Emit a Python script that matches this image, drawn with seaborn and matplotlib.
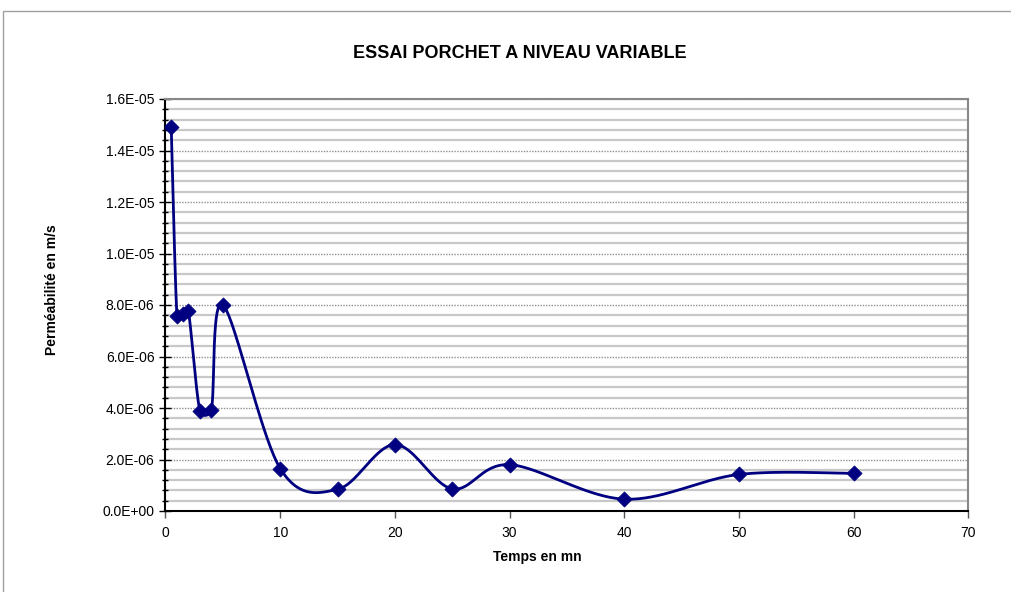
import numpy as np
import pandas as pd
import matplotlib
matplotlib.use("Agg")
import matplotlib.pyplot as plt
import seaborn as sns
from matplotlib.patches import Rectangle
from matplotlib.ticker import MultipleLocator, FuncFormatter

# ---- data ----
temps = [0.5, 1, 1.5, 2, 3, 4, 5, 10, 15, 20, 25, 30, 40, 50, 60]
permeabilite = [1.49e-05, 7.56e-06, 7.64e-06, 7.75e-06, 3.88e-06, 3.94e-06, 8.01e-06,
                1.65e-06, 0.84e-06, 2.58e-06, 0.86e-06, 1.80e-06, 0.46e-06, 1.42e-06, 1.46e-06]
x_ticks = [0, 10, 20, 30, 40, 50, 60, 70]
y_ticks = [0, 2e-06, 4e-06, 6e-06, 8e-06, 1e-05, 1.2e-05, 1.4e-05, 1.6e-05]
title = "ESSAI PORCHET A NIVEAU VARIABLE"
xlabel = "Temps en mn"
ylabel = "Perméabilité en m/s"

sns.set_theme(style="white")
plt.rcParams['font.family'] = ['Liberation Sans', 'DejaVu Sans']
plt.rcParams['text.color'] = 'black'
plt.rcParams['xtick.color'] = 'black'
plt.rcParams['ytick.color'] = 'black'
plt.rcParams['axes.labelcolor'] = 'black'

W, H = 1012, 592
fig = plt.figure(figsize=(W / 100, H / 100), dpi=100)
left, right, top, bottom = 165.5, 968.5, 99, 511
ax = fig.add_axes([left / W, 1 - bottom / H, (right - left) / W, (bottom - top) / H])

navy = "#000080"

# smooth curve (Excel-like Bezier) computed in pixel space
sx = (right - left) / 70.0
sy = (bottom - top) / 1.6e-05
P = np.column_stack([np.array(temps) * sx, np.array(permeabilite) * sy])
n = len(P)


def capped(v, L, k=0.6):
    nv = np.linalg.norm(v)
    lim = k * L
    return v * (lim / nv) if nv > lim else v


curve = []
for i in range(n - 1):
    p0 = P[i - 1] if i > 0 else P[i]
    p1, p2 = P[i], P[i + 1]
    p3 = P[i + 2] if i + 2 < n else P[i + 1]
    L = np.linalg.norm(p2 - p1)
    c1 = p1 + capped((p2 - p0) / 6.0, L)
    c2 = p2 - capped((p3 - p1) / 6.0, L)
    t = np.linspace(0, 1, 40)[:, None]
    seg = ((1 - t) ** 3) * p1 + 3 * ((1 - t) ** 2) * t * c1 + 3 * (1 - t) * t ** 2 * c2 + t ** 3 * p2
    curve.append(seg if i == 0 else seg[1:])
curve = np.vstack(curve)
df_curve = pd.DataFrame({"x": curve[:, 0] / sx, "y": curve[:, 1] / sy})
df_pts = pd.DataFrame({"x": temps, "y": permeabilite})

sns.lineplot(data=df_curve, x="x", y="y", sort=False, estimator=None, color=navy,
             linewidth=2, ax=ax, zorder=3)
sns.scatterplot(data=df_pts, x="x", y="y", marker="D", s=60, color=navy,
                edgecolor=navy, linewidth=0.5, ax=ax, zorder=4)

ax.set_xlim(0, 70)
ax.set_ylim(0, 1.6e-05)
ax.set_xticks(x_ticks)
ax.set_yticks(y_ticks)
ax.yaxis.set_minor_locator(MultipleLocator(4e-07))
ax.yaxis.set_major_formatter(FuncFormatter(lambda v, p: "{:.1E}".format(v)))
ax.xaxis.set_major_formatter(FuncFormatter(lambda v, p: "{:d}".format(int(round(v)))))

ax.grid(False)
ax.yaxis.grid(True, which="minor", color="#c8c8c8", linewidth=1.6, linestyle="-", zorder=0)
ax.yaxis.grid(True, which="major", color="#909090", linewidth=1.0, linestyle=(0, (1, 1)), zorder=1)
ax.set_axisbelow(True)

ax.tick_params(axis="y", which="major", direction="inout", length=8, width=1, color="black",
               labelsize=10, pad=4, left=True)
ax.tick_params(axis="y", which="minor", direction="inout", length=5, width=1, color="black", left=True)
ax.tick_params(axis="x", which="major", direction="out", length=5, width=1, color="#555555",
               labelsize=10, pad=6, bottom=True)

for s in ["left", "bottom"]:
    ax.spines[s].set_color("black")
    ax.spines[s].set_linewidth(1.5)
for s in ["top", "right"]:
    ax.spines[s].set_color("#888888")
    ax.spines[s].set_linewidth(1.5)

ax.set_xlabel("")
ax.set_ylabel("")
fig.text(520 / W, 1 - 53 / H, title, ha="center", va="center", fontsize=13, fontweight="bold",
         color="black")
fig.text(537 / W, 1 - 557 / H, xlabel, ha="center", va="center", fontsize=10, fontweight="bold",
         color="black")
fig.text(52 / W, 1 - 290 / H, ylabel, ha="center", va="center", rotation=90,
         fontsize=10, fontweight="bold", color="black")

fig.patches.append(Rectangle((3 / W, -0.1), 1.2, 1 - 11 / H + 0.1, transform=fig.transFigure,
                             fill=False, edgecolor="#a0a0a0", linewidth=1, clip_on=False))

fig.savefig("out.png", dpi=100, facecolor="white")
